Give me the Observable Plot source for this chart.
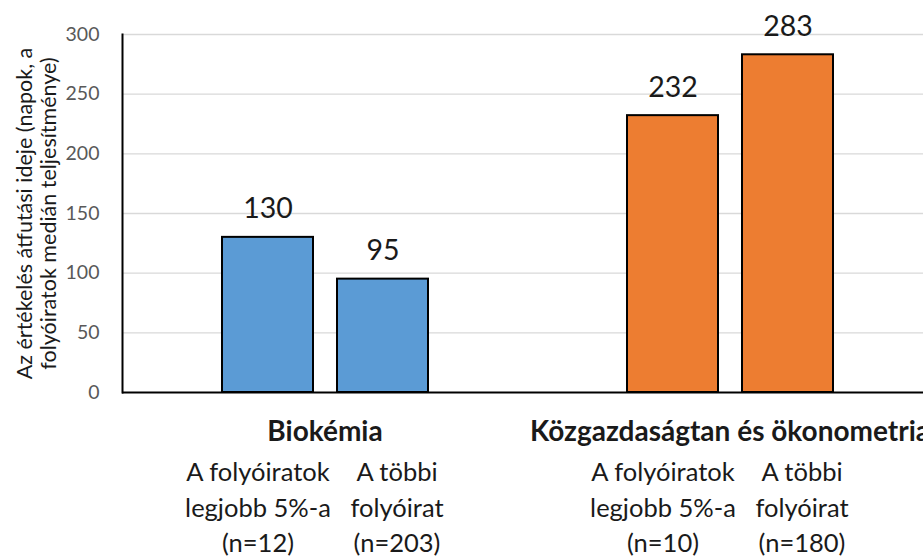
<!DOCTYPE html>
<html>
<head>
<meta charset="utf-8">
<script src="https://cdn.jsdelivr.net/npm/d3@7"></script>
<script src="https://cdn.jsdelivr.net/npm/@observablehq/plot@0.6"></script>
<style>
  html, body { margin: 0; padding: 0; background: white; overflow: hidden; }
</style>
</head>
<body>
<div id="chart"></div>
<script>
// ---- data ----
const groups = ["Biokémia", "Közgazdaságtan és ökonometria"];
const kinds = ["legjobb", "többi"];
const barGroup = ["Biokémia", "Biokémia", "Közgazdaságtan és ökonometria", "Közgazdaságtan és ökonometria"];
const barKind = ["legjobb", "többi", "legjobb", "többi"];
const barLabel = [
  "A folyóiratok\nlegjobb 5%-a\n(n=12)",
  "A többi\nfolyóirat\n(n=203)",
  "A folyóiratok\nlegjobb 5%-a\n(n=10)",
  "A többi\nfolyóirat\n(n=180)"
];
const values = [130, 95, 232, 283];
const yTicks = [0, 50, 100, 150, 200, 250, 300];
const groupColors = ["#5b9bd5", "#ed7d31"];
const yTitle = "Az értékelés átfutási ideje (napok, a\nfolyóiratok medián teljesítménye)";

const data = values.map((v, i) => ({group: barGroup[i], kind: barKind[i], label: barLabel[i], value: v}));

const subLabel = (kind, dx) => Plot.text(data.filter(d => d.kind === kind), {
  fx: "group", x: "kind", text: "label", frameAnchor: "bottom", textAnchor: "middle", lineAnchor: "middle",
  dx, dy: 113, fontSize: 25.5, lineHeight: 1.39, fill: "#1a1a1a"
});

const chart = Plot.plot({
  width: 923,
  height: 557,
  marginLeft: 121,
  marginRight: -9,
  marginTop: 34,
  marginBottom: 165,
  style: {fontFamily: "Lato, 'Open Sans', sans-serif", background: "white", maxWidth: "none", overflow: "hidden"},
  fx: {domain: groups, padding: 0, axis: null},
  x: {domain: kinds, paddingInner: 0.208, paddingOuter: 0, insetLeft: 99.5, insetRight: 98.5, axis: null},
  y: {domain: [0, 300], axis: null},
  color: {domain: groups, range: groupColors},
  marks: [
    Plot.gridY(yTicks.filter(d => d > 0), {stroke: "#d9d9d9", strokeOpacity: 1, strokeWidth: 1.3}),
    Plot.axisY({ticks: yTicks, tickSize: 0, tickPadding: 23, fontSize: 19.5, color: "#595959", label: null, facetAnchor: "left"}),
    Plot.barY(data, {fx: "group", x: "kind", y: "value", fill: "group", stroke: "black", strokeWidth: 2}),
    Plot.ruleY([0], {stroke: "black", strokeWidth: 2}),
    Plot.frame({anchor: "left", facetAnchor: "left", stroke: "black", strokeWidth: 2}),
    Plot.text(data, {fx: "group", x: "kind", y: "value", text: d => String(d.value), dy: -28, fontSize: 28.5, fill: "#1a1a1a"}),
    Plot.text(groups, {fx: d => d, text: d => d, frameAnchor: "bottom", textAnchor: "middle", lineAnchor: "middle", dy: 40, fontSize: 28, fontWeight: "bold", fill: "#1a1a1a"}),
    subLabel("legjobb", -10),
    subLabel("többi", 14),
    Plot.text([yTitle], {fx: () => groups[0], text: d => d, frameAnchor: "left", textAnchor: "middle", lineAnchor: "middle", dx: -86, rotate: -90, fontSize: 21.5, lineHeight: 1.08, fill: "#1a1a1a"})
  ]
});

document.getElementById("chart").appendChild(chart);
</script>
</body>
</html>
